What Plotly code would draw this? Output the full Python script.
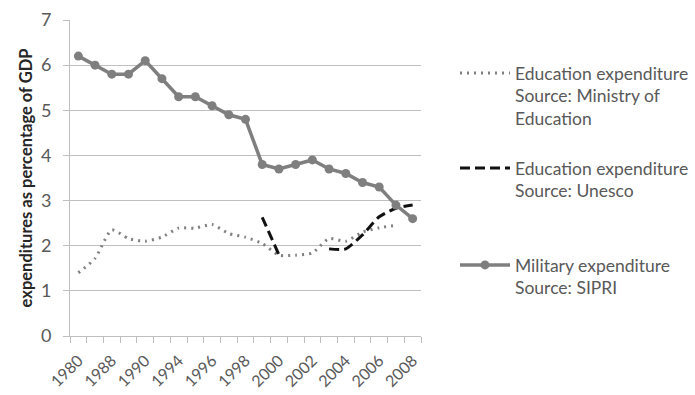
import plotly.graph_objects as go

categories = ["1980", "1985", "1988", "1989", "1990", "1992", "1994", "1995", "1996", "1997",
              "1998", "1999", "2000", "2001", "2002", "2003", "2004", "2005", "2006", "2007", "2008"]
tick_labels = ["1980", "", "1988", "", "1990", "", "1994", "", "1996", "", "1998", "",
               "2000", "", "2002", "", "2004", "", "2006", "", "2008"]

edu_ministry = [1.4, 1.72, 2.35, 2.16, 2.1, 2.19, 2.39, 2.39, 2.47, 2.27, 2.19, 2.05,
                1.79, 1.79, 1.84, 2.16, 2.1, 2.3, 2.4, 2.45, None]
edu_unesco = [None, None, None, None, None, None, None, None, None, None, None, 2.63,
              1.8, None, None, 1.93, 1.93, 2.24, 2.64, 2.83, 2.9]
military = [6.2, 6.0, 5.8, 5.8, 6.1, 5.7, 5.3, 5.3, 5.1, 4.9, 4.8, 3.8, 3.7, 3.8, 3.9,
            3.7, 3.6, 3.4, 3.3, 2.9, 2.6]

names = ["Education expenditure<br>Source: Ministry of<br>Education",
         "Education expenditure<br>Source: Unesco",
         "Military expenditure<br>Source: SIPRI"]

FONT = "Lato, 'Open Sans', sans-serif"
TXT = "#595959"

fig = go.Figure()
fig.add_trace(go.Scatter(x=categories, y=edu_ministry, mode="lines", name=names[0],
                         line=dict(color="#808080", width=3, dash="2px,5px", shape="spline", smoothing=0.6),
                         legend="legend"))
fig.add_trace(go.Scatter(x=categories, y=edu_unesco, mode="lines", name=names[1],
                         line=dict(color="#111111", width=3, dash="10px,5px", shape="spline", smoothing=0.6),
                         legend="legend2"))
fig.add_trace(go.Scatter(x=categories, y=military, mode="lines+markers", name=names[2],
                         line=dict(color="#7f7f7f", width=3.5),
                         marker=dict(symbol="circle", size=9, color="#7f7f7f"),
                         legend="legend3"))

leg_common = dict(xref="container", yref="container", xanchor="left", yanchor="top",
                  valign="top", font=dict(family=FONT, size=17.5, color=TXT),
                  bgcolor="rgba(0,0,0,0)", itemwidth=50)
LX = 455 / 695
fig.update_layout(
    width=695, height=395,
    margin=dict(l=70, r=274, t=20, b=59),
    paper_bgcolor="white", plot_bgcolor="white",
    font=dict(family=FONT, color=TXT),
    showlegend=True,
    legend=dict(x=LX, y=1 - 55/395, **leg_common),
    legend2=dict(x=LX, y=1 - 150/395, **leg_common),
    legend3=dict(x=LX, y=1 - 247/395, **leg_common),
    xaxis=dict(type="category", categoryorder="array", categoryarray=categories,
               tickmode="array", tickvals=categories, ticktext=tick_labels,
               tickson="boundaries", ticks="outside", ticklen=6, tickcolor="#bfbfbf",
               showline=True, linecolor="#bfbfbf", linewidth=1, showgrid=False,
               tickangle=-45, tickfont=dict(family=FONT, size=16, color=TXT),
               ticklabelstandoff=8, range=[-0.5, 20.5], automargin=False),
    yaxis=dict(range=[0, 7], dtick=1, tick0=0, showgrid=True, gridcolor="#bfbfbf",
               gridwidth=1, showline=True, linecolor="#bfbfbf", ticks="outside",
               ticklen=6, tickcolor="#bfbfbf", zeroline=False, ticklabelstandoff=8,
               tickfont=dict(family=FONT, size=18, color=TXT), automargin=False,
               title=dict(text="<b>expenditures as percentage of GDP</b>",
                          font=dict(family=FONT, size=16.5, color="#262626"), standoff=4)),
)

fig.write_html("out.html")
